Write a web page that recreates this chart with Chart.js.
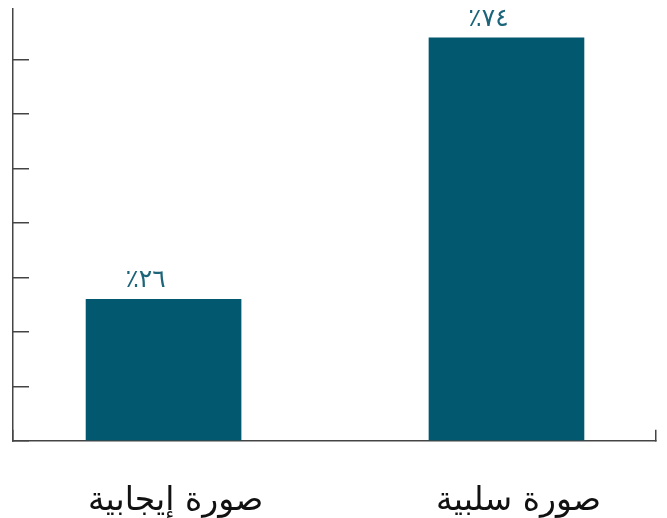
<!DOCTYPE html>
<html>
<head>
<meta charset="utf-8">
<script src="https://cdn.jsdelivr.net/npm/chart.js@4"></script>
<style>
  html, body { margin: 0; padding: 0; background: #fff; }
  #wrap { width: 667px; height: 518px; }
</style>
</head>
<body>
<div id="wrap"><canvas id="chart"></canvas></div>
<script>
const categories = ["صورة إيجابية", "صورة سلبية"];
const positions = [1, 2];
const values = [26, 74];
const valueLabels = ["٪٢٦", "٪٧٤"];
const yTicks = [0, 10, 20, 30, 40, 50, 60, 70];

const xMin = 0.561;
const xMax = 2.436;
const yMax = 79.3;

const barColor = "#02586e";
const axisColor = "#444";

// writes the percent above each bar, using the bar elements' own positions
const valueLabelPlugin = {
  id: "valueLabels",
  afterDatasetsDraw(chart) {
    const ctx = chart.ctx;
    const meta = chart.getDatasetMeta(0);
    ctx.save();
    ctx.font = "25px 'DejaVu Sans'";
    ctx.fillStyle = "#1c6479";
    ctx.textAlign = "center";
    ctx.textBaseline = "bottom";
    meta.data.forEach((bar, i) => {
      ctx.fillText(valueLabels[i], bar.x - 18, bar.y - 6);
    });
    ctx.restore();
  },
};

new Chart(document.getElementById("chart"), {
  type: "bar",
  data: {
    datasets: [
      {
        data: positions.map((p, i) => ({ x: p, y: values[i] })),
        backgroundColor: barColor,
        barThickness: 155,
      },
    ],
  },
  options: {
    responsive: true,
    maintainAspectRatio: false,
    animation: false,
    layout: { padding: { top: 9, right: 0, left: 0, bottom: -15 } },
    plugins: {
      legend: { display: false },
      tooltip: { enabled: false },
    },
    scales: {
      x: {
        type: "linear",
        offset: false,
        min: xMin,
        max: xMax,
        afterBuildTicks: (scale) => {
          scale.ticks = [xMin, ...positions, xMax].map((v) => ({ value: v }));
        },
        afterFit: (scale) => {
          scale.paddingLeft = 0;
          scale.paddingRight = 11;
        },
        border: { color: axisColor, width: 1.5 },
        grid: {
          offset: false,
          drawOnChartArea: false,
          tickLength: -11,
          color: (c) =>
            c.tick && positions.includes(c.tick.value) ? "rgba(0,0,0,0)" : axisColor,
          lineWidth: 1.5,
        },
        ticks: {
          autoSkip: false,
          maxRotation: 0,
          padding: 12,
          labelOffset: 12,
          color: "#111",
          font: { family: "'DejaVu Sans'", size: 33 },
          callback: (v) => {
            const i = positions.indexOf(v);
            return i >= 0 ? ["", categories[i]] : "";
          },
        },
      },
      y: {
        min: 0,
        max: yMax,
        afterBuildTicks: (scale) => {
          scale.ticks = yTicks.map((v) => ({ value: v }));
        },
        afterFit: (scale) => {
          scale.width = 13;
          scale.paddingTop = 0;
          scale.paddingBottom = 0;
        },
        border: { color: axisColor, width: 1.5 },
        grid: {
          drawOnChartArea: false,
          tickLength: -16,
          color: axisColor,
          lineWidth: 1.5,
        },
        ticks: {
          padding: 0,
          callback: () => "",
        },
      },
    },
  },
  plugins: [valueLabelPlugin],
});
</script>
</body>
</html>
